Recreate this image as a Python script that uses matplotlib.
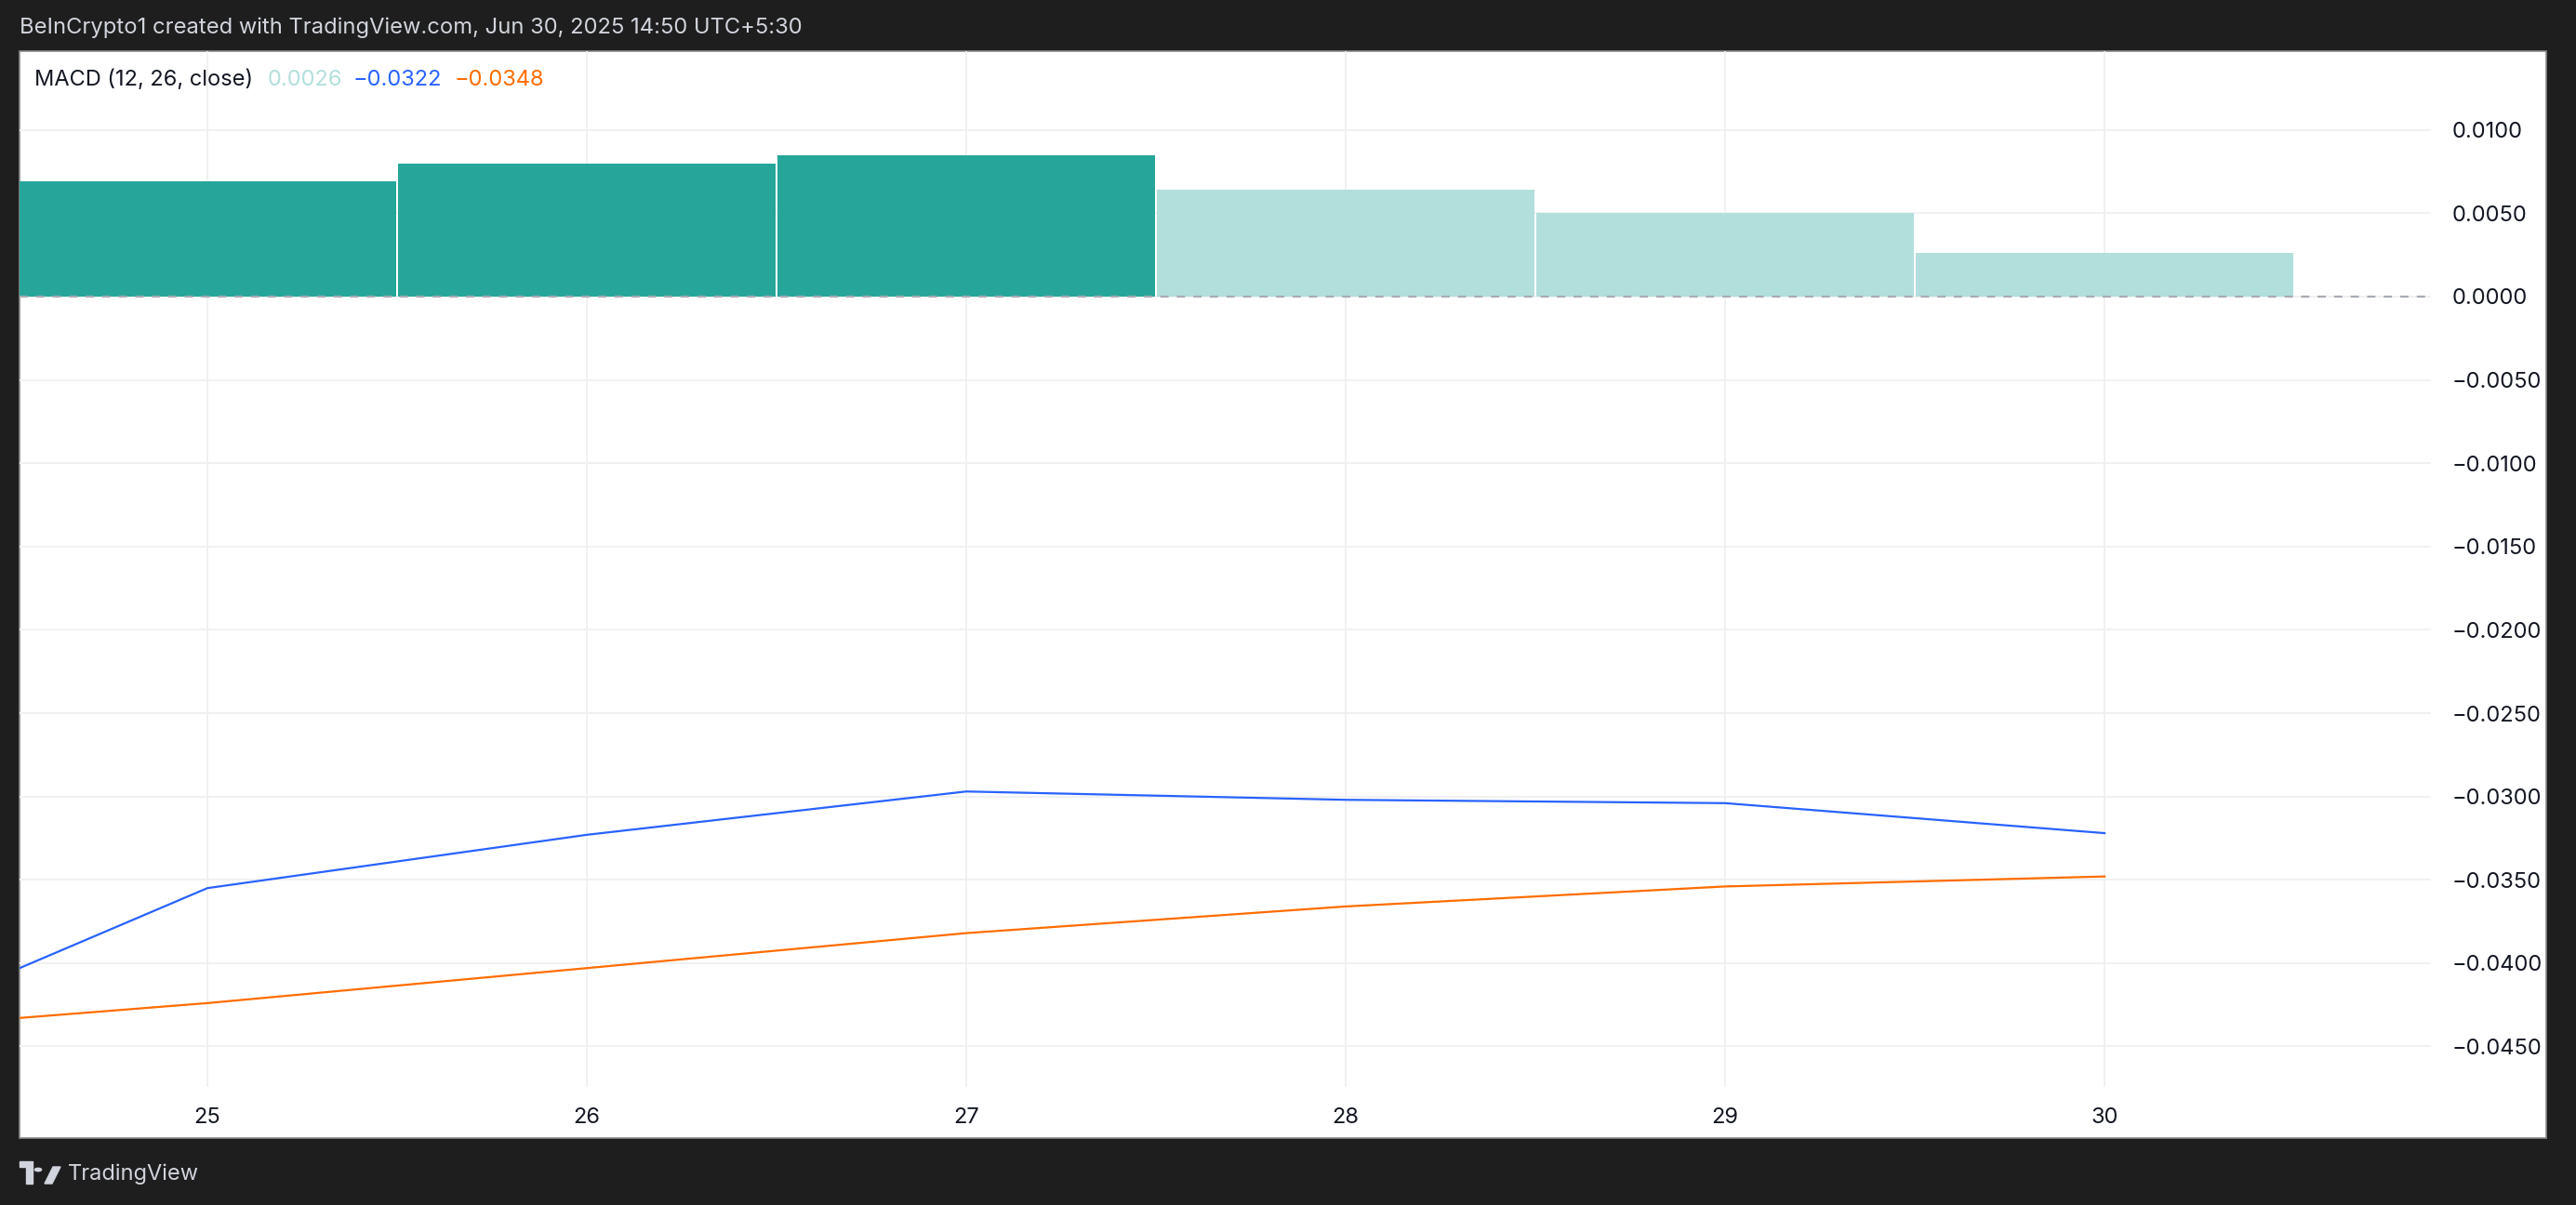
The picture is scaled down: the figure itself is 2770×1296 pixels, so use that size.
"""MACD (12, 26, close) panel, TradingView style."""

import matplotlib
matplotlib.use('Agg')
from matplotlib import pyplot as plt
from matplotlib import patches

_BG = '#1e1e1e'
_GRID = '#f0f0f0'
_HIST_UP = '#26a69a'
_HIST_FADE = '#b2dfdb'
_MACD_COLOR = '#2962ff'
_SIGNAL_COLOR = '#ff6d00'

# Data (June 2025, daily)
days = [24, 25, 26, 27, 28, 29, 30]
macd_line = [-0.0452, -0.0355, -0.0323, -0.0297, -0.0302, -0.0304, -0.0322]
signal_line = [-0.0442, -0.0424, -0.0403, -0.0382, -0.0366, -0.0354, -0.0348]
hist_days = [25, 26, 27, 28, 29, 30]
hist_values = [0.0069, 0.0080, 0.0085, 0.0064, 0.0050, 0.0026]
y_ticks = [0.0100, 0.0050, 0.0000, -0.0050, -0.0100, -0.0150, -0.0200,
           -0.0250, -0.0300, -0.0350, -0.0400, -0.0450]
x_ticks = [25, 26, 27, 28, 29, 30]

W, H = 2770, 1296
plt.rcParams['font.family'] = ['Inter', 'DejaVu Sans']

fig = plt.figure(figsize=(W / 100, H / 100), dpi=100, facecolor=_BG)

# White panel with thin grey border (behind the axes)
panel = patches.Rectangle((21 / W, 1 - 1224 / H), (2738 - 21) / W,
                          (1224 - 55) / H, transform=fig.transFigure,
                          facecolor='white', edgecolor='#8a8a8a', lw=1.2,
                          zorder=-5)
fig.patches.append(panel)

ax = fig.add_axes([21 / W, 1 - 1169 / H, (2614 - 21) / W, (1169 - 55) / H])
ax.set_zorder(1)
ax.patch.set_alpha(0)

# Histogram: rising bars dark teal, falling bars light teal
colors = []
for i, v in enumerate(hist_values):
  if i == 0 or v >= hist_values[i - 1]:
    colors.append(_HIST_UP)
  else:
    colors.append(_HIST_FADE)
ax.bar(hist_days, hist_values, width=0.995, color=colors, zorder=2)

ax.axhline(0, color='#a8abb3', lw=1.6, ls=(0, (4, 4)), zorder=3)

ax.plot(days, macd_line, color=_MACD_COLOR, lw=1.6, zorder=4)
ax.plot(days, signal_line, color=_SIGNAL_COLOR, lw=1.6, zorder=4)

ax.set_xlim(24.505, 30.86)
ax.set_ylim(-0.04743, 0.01473)

ax.set_yticks(y_ticks)
ax.set_yticklabels([f'{v:.4f}'.replace('-', '\u2212') if v != 0 else '0.0000'
                    for v in y_ticks])
ax.yaxis.tick_right()
ax.set_xticks(x_ticks)
ax.set_xticklabels([str(d) for d in x_ticks])
ax.tick_params(axis='both', length=0, labelsize=17, colors='#131722')
ax.tick_params(axis='y', pad=16)
ax.tick_params(axis='x', pad=16)
ax.grid(True, color=_GRID, lw=1.3, zorder=0)
for side in ax.spines.values():
  side.set_visible(False)

# Legend line
fig.text(37 / W, 1 - 86 / H, 'MACD (12, 26, close)', color='#131722',
         fontsize=17, va='center')
fig.text(288 / W, 1 - 86 / H, '0.0026', color=_HIST_FADE, fontsize=17,
         va='center')
fig.text(380 / W, 1 - 86 / H, '\u22120.0322', color=_MACD_COLOR,
         fontsize=17, va='center')
fig.text(489 / W, 1 - 86 / H, '\u22120.0348', color=_SIGNAL_COLOR,
         fontsize=17, va='center')

# Header and footer
fig.text(21 / W, 1 - 30 / H,
         'BeInCrypto1 created with TradingView.com, Jun 30, 2025 14:50 UTC+5:30',
         color='#d1d4dc', fontsize=17.1, va='center')

# TradingView logo: T, dot, slash
lx, ly = 21, 1263
logo = '#d1d4dc'
fig.patches.append(patches.Rectangle(((lx) / W, 1 - (ly - 8) / H), 14 / W,
                                     6 / H, transform=fig.transFigure,
                                     color=logo))
fig.patches.append(patches.Rectangle(((lx + 7) / W, 1 - (ly + 10) / H),
                                     7 / W, 18 / H, transform=fig.transFigure,
                                     color=logo))
fig.patches.append(patches.Circle(((lx + 20) / W, 1 - (ly - 5) / H), 3.6 / W,
                                  transform=fig.transFigure, color=logo))
fig.patches.append(patches.Polygon(
    [((lx + 27) / W, 1 - (ly + 10) / H), ((lx + 35) / W, 1 - (ly + 10) / H),
     ((lx + 44) / W, 1 - (ly - 8) / H), ((lx + 36) / W, 1 - (ly - 8) / H)],
    closed=True, transform=fig.transFigure, color=logo))
fig.text((lx + 52) / W, 1 - ly / H, 'TradingView', color=logo, fontsize=17,
         va='center')

fig.savefig('out.png', dpi=100, facecolor=_BG)
